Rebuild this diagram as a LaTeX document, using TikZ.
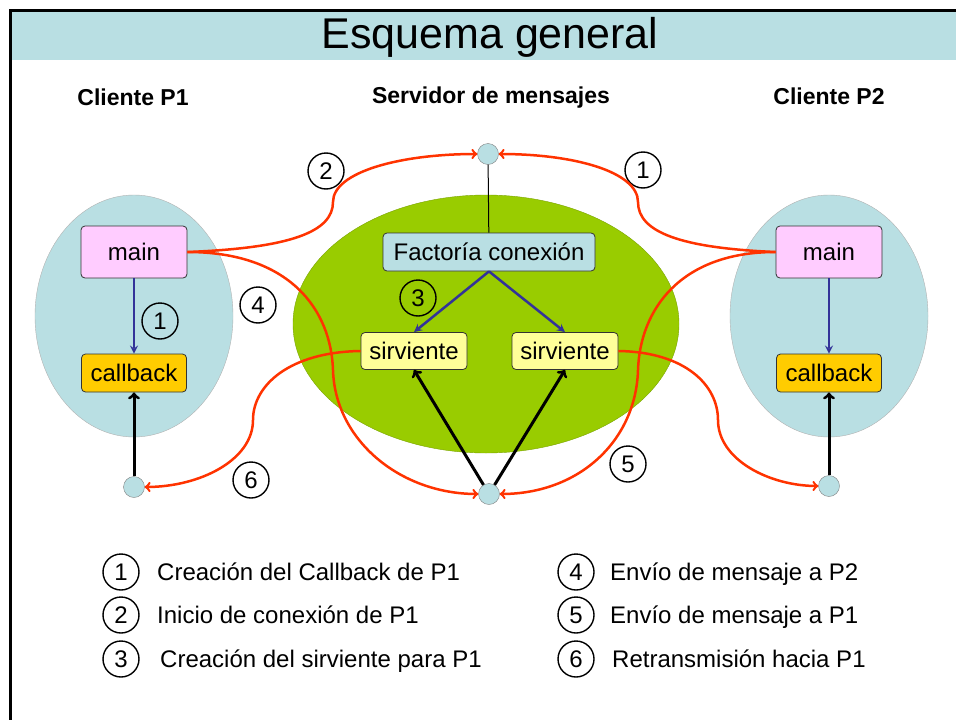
\documentclass[tikz,border=0pt]{standalone}
\usepackage{fontspec}
\setmainfont{Liberation Sans}
\usetikzlibrary{arrows,%
                shapes,positioning}
\definecolor{celeste}{HTML}{B9DFE3}
\definecolor{rosa}{HTML}{FFCCFF}
\definecolor{oro}{HTML}{FFCC00}
\definecolor{crema}{HTML}{FFFF99}
\definecolor{verde}{HTML}{99CC00}
\definecolor{rojo}{HTML}{FF3300}
\definecolor{azul}{HTML}{333399}

\begin{document}
\begin{tikzpicture}[x=1pt,y=-1pt,
  caja/.style={draw=black!80,line width=0.8pt,rounded corners=4pt,inner sep=0pt,
    font=\fontsize{24}{26}\selectfont},
  punto/.style={circle,draw=gray,fill=celeste,minimum size=21pt,inner sep=0pt},
  num/.style={circle,draw,line width=1.4pt,minimum size=36pt,inner sep=0pt,
    font=\fontsize{24}{26}\selectfont},
  leyenda/.style={anchor=base west,inner sep=0pt,font=\fontsize{24}{26}\selectfont},
  cabecera/.style={anchor=base,font=\fontsize{23}{25}\selectfont\bfseries},
  roja/.style={draw=rojo,line width=2.5pt,-to},
  azulada/.style={draw=azul,line width=2.5pt,-stealth},
  negra/.style={draw=black,line width=3pt,-to}]
\useasboundingbox (0,0) rectangle (956,720);
% marco y titulo
\fill[celeste] (12,12) rectangle (956,60);
\draw[line width=3pt] (10.5,720) -- (10.5,10.5) -- (956,10.5);
\node[font=\fontsize{43}{46}\selectfont] (titulo) at (490,37) {Esquema general};
\node[cabecera] (cli1) at (133,105) {Cliente P1};
\node[cabecera] (serv) at (491,103) {Servidor de mensajes};
\node[cabecera] (cli2) at (829,104) {Cliente P2};
% fondos
\draw[gray!60,fill=celeste] (134,316) ellipse [x radius=99, y radius=121];
\draw[gray!60,fill=celeste] (829,316) ellipse [x radius=99, y radius=121];
\draw[verde!80!black,fill=verde] (486,324) ellipse [x radius=193, y radius=129];
% nodos
\node[caja,fill=rosa,minimum width=106pt,minimum height=52pt] (main1) at (134,252) {main};
\node[caja,fill=oro,minimum width=105pt,minimum height=38pt] (cb1) at (134,373) {callback};
\node[caja,fill=rosa,minimum width=106pt,minimum height=52pt] (main2) at (829,252) {main};
\node[caja,fill=oro,minimum width=105pt,minimum height=38pt] (cb2) at (829,373) {callback};
\node[caja,fill=celeste,minimum width=212pt,minimum height=38pt] (fact) at (489,252) {Factoría conexión};
\node[caja,fill=crema,minimum width=106pt,minimum height=37pt] (sirv1) at (414,351) {sirviente};
\node[caja,fill=crema,minimum width=106pt,minimum height=37pt] (sirv2) at (565,351) {sirviente};
\node[punto] (ptop) at (488,154) {};
\node[punto] (pbot) at (489,494) {};
\node[punto] (pcb1) at (134,487) {};
\node[punto] (pcb2) at (829,486) {};
% pasos
\node[num] (n2) at (326,171) {2};
\node[num] (n1b) at (643,170) {1};
\node[num] (n1a) at (160,321) {1};
\node[num] (n4) at (258,305) {4};
\node[num] (n3) at (418,298) {3};
\node[num] (n6) at (251,480) {6};
\node[num] (n5) at (628,464) {5};
% conexiones
\draw[line width=1pt] (ptop) -- (fact);
\draw[azulada] (main1) -- (cb1);
\draw[azulada] (main2) -- (cb2);
\draw[azulada] (fact.south) -- (sirv1.north);
\draw[azulada] (fact.south) -- (sirv2.north);
\draw[negra] (pcb1) -- (cb1);
\draw[negra] (pcb2) -- (cb2);
\draw[negra] (pbot) -- (sirv1.south);
\draw[negra] (pbot) -- (sirv2.south);
\draw[roja] (main1.east) .. controls (290,248) and (333,232) .. (333,202)
  .. controls (333,172) and (400,154) .. (ptop.west);
\draw[roja] (main2.west) .. controls (680,248) and (638,232) .. (638,202)
  .. controls (638,172) and (575,154) .. (ptop.east);
\draw[roja] (main1.east) .. controls (290,252) and (331,310) .. (333,370)
  .. controls (335,440) and (400,494) .. (pbot.west);
\draw[roja] (main2.west) .. controls (680,252) and (640,310) .. (638,370)
  .. controls (636,440) and (580,494) .. (pbot.east);
\draw[roja] (sirv1.west) .. controls (290,352) and (253,385) .. (253,420)
  .. controls (253,460) and (200,487) .. (pcb1.east);
\draw[roja] (sirv2.east) .. controls (685,352) and (718,385) .. (718,420)
  .. controls (718,460) and (770,486) .. (pcb2.west);
% leyenda
\node[num] (l1) at (121,572) {1};
\node[num] (l2) at (121,615) {2};
\node[num] (l3) at (121,659) {3};
\node[num] (l4) at (576,572) {4};
\node[num] (l5) at (576,615) {5};
\node[num] (l6) at (576,659) {6};
\node[leyenda] (t1) at (157,580.5) {Creación del Callback de P1};
\node[leyenda] (t2) at (157,623.5) {Inicio de conexión de P1};
\node[leyenda] (t3) at (160,667.5) {Creación del sirviente para P1};
\node[leyenda] (t4) at (610,580.5) {Envío de mensaje a P2};
\node[leyenda] (t5) at (610,623.5) {Envío de mensaje a P1};
\node[leyenda] (t6) at (612,667.5) {Retransmisión hacia P1};
\end{tikzpicture}
\end{document}
